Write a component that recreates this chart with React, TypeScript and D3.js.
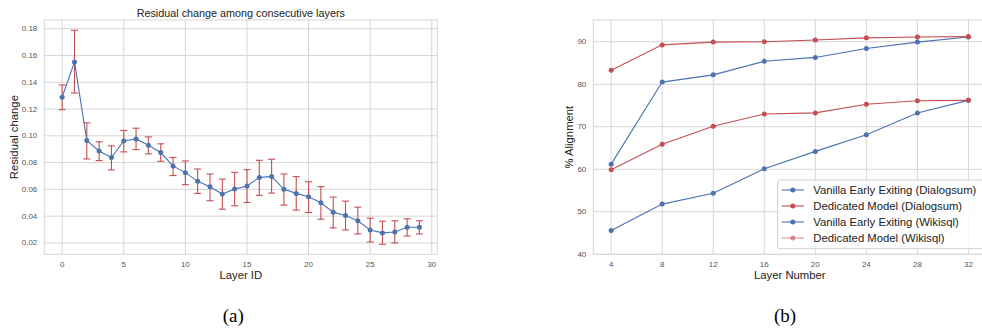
import React from 'react';
import * as d3 from 'd3';

// ---------- Data (a) ----------
const layerIds = [0, 1, 2, 3, 4, 5, 6, 7, 8, 9, 10, 11, 12, 13, 14, 15, 16, 17, 18, 19, 20, 21, 22, 23, 24, 25, 26, 27, 28, 29];
const residualMean = [0.1288, 0.1552, 0.0965, 0.0887, 0.0838, 0.0962, 0.0977, 0.093, 0.0875, 0.0775, 0.0725, 0.066, 0.062, 0.0565, 0.0602, 0.0625, 0.0688, 0.0697, 0.06, 0.057, 0.0545, 0.05, 0.043, 0.0405, 0.0365, 0.0297, 0.0275, 0.0282, 0.0317, 0.0317];
const residualUpper = [0.138, 0.1788, 0.1097, 0.0955, 0.0925, 0.104, 0.1057, 0.0992, 0.094, 0.0838, 0.0812, 0.0752, 0.0715, 0.0677, 0.0727, 0.0747, 0.0817, 0.0825, 0.0715, 0.0695, 0.0657, 0.062, 0.0542, 0.0512, 0.0467, 0.0385, 0.0362, 0.0365, 0.038, 0.0365];
const residualLower = [0.1195, 0.132, 0.0827, 0.0815, 0.0745, 0.088, 0.0897, 0.0865, 0.081, 0.0703, 0.0635, 0.057, 0.0515, 0.0452, 0.0477, 0.0502, 0.0555, 0.0572, 0.0482, 0.0445, 0.0427, 0.0377, 0.0312, 0.0297, 0.0267, 0.0207, 0.019, 0.02, 0.0252, 0.0267];
const leftXTicks = [0, 5, 10, 15, 20, 25, 30];
const leftYTicks = [0.02, 0.04, 0.06, 0.08, 0.1, 0.12, 0.14, 0.16, 0.18];

// ---------- Data (b) ----------
const layerNumbers = [4, 8, 12, 16, 20, 24, 28, 32];
const vanillaDialogsum = [61.2, 80.5, 82.2, 85.4, 86.3, 88.4, 89.9, 91.1];
const dedicatedDialogsum = [83.3, 89.25, 89.9, 90.0, 90.4, 90.9, 91.1, 91.2];
const vanillaWikisql = [45.6, 51.8, 54.35, 60.1, 64.2, 68.1, 73.25, 76.2];
const dedicatedWikisql = [59.9, 65.9, 70.1, 73.0, 73.25, 75.3, 76.1, 76.2];
const seriesNames = [
  'Vanilla Early Exiting (Dialogsum)',
  'Dedicated Model (Dialogsum)',
  'Vanilla Early Exiting (Wikisql)',
  'Dedicated Model (Wikisql)',
];
const rightXTicks = [4, 8, 12, 16, 20, 24, 28, 32];
const rightYTicks = [40, 50, 60, 70, 80, 90];

const BLUE = '#4C72B0';
const RED = '#C44E52';
const GRID = '#d6d6d6';
const TICK_COLOR = '#555';
const FONT = '"Liberation Sans", Arial, sans-serif';

export default function App() {
  // left chart scales
  const lx = d3.scaleLinear().domain([-1.45, 30.45]).range([44.3, 437.3]);
  const ly = d3.scaleLinear().domain([0.0115, 0.1865]).range([254.3, 20]);
  // right chart scales
  const rx = d3.scaleLinear().domain([2.6, 33.4]).range([593.3, 986.3]);
  const ry = d3.scaleLinear().domain([40, 95.1]).range([254.3, 20]);

  const leftLine = d3.line<number>().x((_, i) => lx(layerIds[i])).y((d) => ly(d));
  const rightLine = d3.line<number>().x((_, i) => rx(layerNumbers[i])).y((d) => ry(d));

  const rightSeries = [
    { name: seriesNames[0], values: vanillaDialogsum, color: BLUE },
    { name: seriesNames[1], values: dedicatedDialogsum, color: RED },
    { name: seriesNames[2], values: vanillaWikisql, color: BLUE },
    { name: seriesNames[3], values: dedicatedWikisql, color: RED },
  ];

  const [lx0, lx1] = lx.range();
  const [ly0, ly1] = ly.range();
  const [rx0, rx1] = rx.range();
  const [ry0, ry1] = ry.range();

  return (
    <svg
      width={982}
      height={328}
      style={{ position: 'absolute', left: 0, top: 0, background: '#fff' }}
      fontFamily={FONT}
    >
      <rect x={0} y={0} width={982} height={328} fill="#fff" />

      {/* ===== Left chart ===== */}
      <g>
        {leftXTicks.map((t) => (
          <line key={'lxg' + t} x1={lx(t)} x2={lx(t)} y1={ly1} y2={ly0} stroke={GRID} strokeWidth={1} />
        ))}
        {leftYTicks.map((t) => (
          <line key={'lyg' + t} x1={lx0} x2={lx1} y1={ly(t)} y2={ly(t)} stroke={GRID} strokeWidth={1} />
        ))}
        <rect x={lx0} y={ly1} width={lx1 - lx0} height={ly0 - ly1} fill="none" stroke={GRID} strokeWidth={1} />
        {leftXTicks.map((t) => (
          <text key={'lxt' + t} x={lx(t)} y={264} fontSize={8} fill={TICK_COLOR} textAnchor="middle" dominantBaseline="central">
            {t}
          </text>
        ))}
        {leftYTicks.map((t) => (
          <text key={'lyt' + t} x={lx0 - 7} y={ly(t)} fontSize={8} fill={TICK_COLOR} textAnchor="end" dominantBaseline="central">
            {t.toFixed(2)}
          </text>
        ))}
        {/* error bars */}
        {layerIds.map((id, i) => (
          <g key={'eb' + id} stroke={RED} strokeWidth={1.1}>
            <line x1={lx(id)} x2={lx(id)} y1={ly(residualUpper[i])} y2={ly(residualLower[i])} />
            <line x1={lx(id) - 3.5} x2={lx(id) + 3.5} y1={ly(residualUpper[i])} y2={ly(residualUpper[i])} />
            <line x1={lx(id) - 3.5} x2={lx(id) + 3.5} y1={ly(residualLower[i])} y2={ly(residualLower[i])} />
          </g>
        ))}
        <path d={leftLine(residualMean) || ''} fill="none" stroke={BLUE} strokeWidth={1.1} />
        {layerIds.map((id, i) => (
          <circle key={'lp' + id} cx={lx(id)} cy={ly(residualMean[i])} r={2.5} fill={BLUE} />
        ))}
        <text x={(lx0 + lx1) / 2} y={12.7} fontSize={10.8} fill="#222" textAnchor="middle" dominantBaseline="central">
          Residual change among consecutive layers
        </text>
        <text x={(lx0 + lx1) / 2} y={275} fontSize={11.3} fill="#222" textAnchor="middle" dominantBaseline="central">
          Layer ID
        </text>
        <text
          transform={`translate(13.5, ${(ly0 + ly1) / 2}) rotate(-90)`}
          fontSize={11.3}
          fill="#222"
          textAnchor="middle"
          dominantBaseline="central"
        >
          Residual change
        </text>
      </g>

      {/* ===== Right chart ===== */}
      <g>
        {rightXTicks.map((t) => (
          <line key={'rxg' + t} x1={rx(t)} x2={rx(t)} y1={ry1} y2={ry0} stroke={GRID} strokeWidth={1} />
        ))}
        {rightYTicks.map((t) => (
          <line key={'ryg' + t} x1={rx0} x2={rx1} y1={ry(t)} y2={ry(t)} stroke={GRID} strokeWidth={1} />
        ))}
        <rect x={rx0} y={ry1} width={rx1 - rx0} height={ry0 - ry1} fill="none" stroke={GRID} strokeWidth={1} />
        {rightXTicks.map((t) => (
          <text key={'rxt' + t} x={rx(t)} y={264} fontSize={8} fill={TICK_COLOR} textAnchor="middle" dominantBaseline="central">
            {t}
          </text>
        ))}
        {rightYTicks.map((t) => (
          <text key={'ryt' + t} x={rx0 - 7} y={ry(t)} fontSize={8} fill={TICK_COLOR} textAnchor="end" dominantBaseline="central">
            {t}
          </text>
        ))}
        {rightSeries.map((s) => (
          <g key={s.name}>
            <path d={rightLine(s.values) || ''} fill="none" stroke={s.color} strokeWidth={1.1} />
            {s.values.map((v, i) => (
              <circle key={i} cx={rx(layerNumbers[i])} cy={ry(v)} r={2.5} fill={s.color} />
            ))}
          </g>
        ))}
        <text x={(rx0 + rx1) / 2} y={275} fontSize={11.3} fill="#222" textAnchor="middle" dominantBaseline="central">
          Layer Number
        </text>
        <text
          transform={`translate(569, ${(ry0 + ry1) / 2}) rotate(-90)`}
          fontSize={11.3}
          fill="#222"
          textAnchor="middle"
          dominantBaseline="central"
        >
          % Alignment
        </text>
        {/* legend */}
        <g>
          <rect x={777.7} y={180} width={210} height={68.7} rx={2} fill="#fff" fillOpacity={0.85} stroke="#d0d0d0" strokeWidth={1} />
          {rightSeries.map((s, i) => {
            const yy = 190 + i * 16;
            const op = i === 3 ? 0.6 : 1;
            return (
              <g key={'lg' + i}>
                <line x1={781.7} x2={804} y1={yy} y2={yy} stroke={s.color} strokeWidth={1.1} strokeOpacity={op} />
                <circle cx={792.8} cy={yy} r={2.5} fill={s.color} fillOpacity={op} />
                <text x={813.3} y={yy} fontSize={11.3} fill="#222" dominantBaseline="central">
                  {s.name}
                </text>
              </g>
            );
          })}
        </g>
      </g>

      {/* captions */}
      <text x={233.3} y={322} fontSize={19} fontFamily='"Liberation Serif", "Times New Roman", serif' textAnchor="middle" fill="#000">
        (a)
      </text>
      <text x={785} y={322} fontSize={19} fontFamily='"Liberation Serif", "Times New Roman", serif' textAnchor="middle" fill="#000">
        (b)
      </text>
    </svg>
  );
}
